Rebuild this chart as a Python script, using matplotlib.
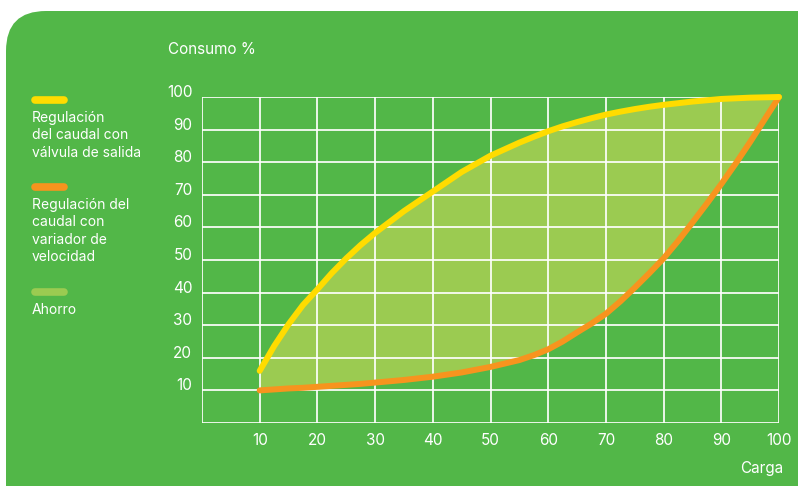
import matplotlib.pyplot as plt
from matplotlib.patches import FancyBboxPatch
from matplotlib.lines import Line2D

# datos
carga = [10, 12.5, 15, 17.5, 20, 22.5, 25, 27.5, 30, 35, 40, 45, 50, 55, 57.5,
         60, 62.5, 65, 67.5, 70, 72.5, 75, 77.5, 80, 82.5, 85, 87.5, 90, 92.5, 95, 97.5, 100]
valvula = [16, 23.6, 30.3, 36.2, 41, 46, 50.5, 54.6, 58.3, 65, 71, 77, 82, 86, 87.8,
           89.5, 91, 92.3, 93.5, 94.6, 95.5, 96.3, 97, 97.6, 98.1, 98.6, 99, 99.4, 99.6, 99.8, 99.9, 100]
variador = [10, 10.3, 10.6, 10.8, 11.1, 11.4, 11.7, 12, 12.4, 13.2, 14.2, 15.5, 17.2, 19.3, 20.8,
            22.6, 25, 27.8, 30.5, 33.5, 37.3, 41.5, 45.9, 50.5, 55.8, 61.5, 67.3, 73.3, 79.6, 86.2, 93.1, 100]
ticks = [10, 20, 30, 40, 50, 60, 70, 80, 90, 100]
leyenda = ["Regulación\ndel caudal con\nválvula de salida",
           "Regulación del\ncaudal con\nvariador de\nvelocidad",
           "Ahorro"]

VERDE = "#52B748"
AHORRO = "#9BCB51"
AMARILLO = "#FFDC00"
NARANJA = "#F7941E"
FUENTE = "Inter"

W, H = 798, 486
fig = plt.figure(figsize=(W / 100, H / 100), dpi=100)
fig.patch.set_facecolor("white")

# fondo verde redondeado
fondo = FancyBboxPatch((6 / W, -0.1), (W - 6) / W + 0.05, (H - 11) / H + 0.1,
                       boxstyle="round,pad=0,rounding_size=0.05",
                       transform=fig.transFigure, facecolor=VERDE,
                       edgecolor="none", mutation_aspect=W / H, zorder=-5)
fig.patches.append(fondo)

ax = fig.add_axes([202 / W, (H - 423) / H, 577 / W, 326 / H])
ax.set_facecolor("none")
ax.set_xlim(0, 100)
ax.set_ylim(0, 100)
for s in ax.spines.values():
    s.set_visible(False)

ax.set_xticks([0] + ticks)
ax.set_yticks([0] + ticks)
ax.set_xticklabels([""] + [str(t) for t in ticks])
ax.set_yticklabels([""] + [str(t) for t in ticks])
ax.tick_params(length=0, colors="white", labelsize=11)
ax.tick_params(axis="x", pad=7)
ax.tick_params(axis="y", pad=7)
for lab in ax.get_yticklabels():
    lab.set_verticalalignment("baseline")
for lab in ax.get_xticklabels() + ax.get_yticklabels():
    lab.set_fontfamily(FUENTE)
ax.set_axisbelow(False)
ax.grid(True, color="white", linewidth=1.3, alpha=0.95)

ax.fill_between(carga, variador, valvula, color=AHORRO, linewidth=0, zorder=1)
ax.plot(carga, valvula, color=AMARILLO, lw=4.3, solid_capstyle="round",
        solid_joinstyle="round", clip_on=False, zorder=4)
ax.plot(carga, variador, color=NARANJA, lw=4.3, solid_capstyle="round",
        solid_joinstyle="round", clip_on=False, zorder=3)

fig.text(168 / W, 1 - 49 / H, "Consumo %", color="white", fontsize=11,
         family=FUENTE, va="center", ha="left")
fig.text(783 / W, 1 - 468 / H, "Carga", color="white", fontsize=11,
         family=FUENTE, va="center", ha="right")

# leyenda
for color, ybar, ytxt, txt in zip([AMARILLO, NARANJA, AHORRO],
                                  [100, 187, 292], [111, 198, 303], leyenda):
    fig.add_artist(Line2D([35 / W, 64 / W], [1 - ybar / H, 1 - ybar / H],
                          transform=fig.transFigure, color=color, lw=5.5,
                          solid_capstyle="round"))
    fig.text(32 / W, 1 - ytxt / H, txt, color="white", fontsize=10,
             family=FUENTE, va="top", ha="left", linespacing=1.3)

fig.savefig("out.png", dpi=100)
